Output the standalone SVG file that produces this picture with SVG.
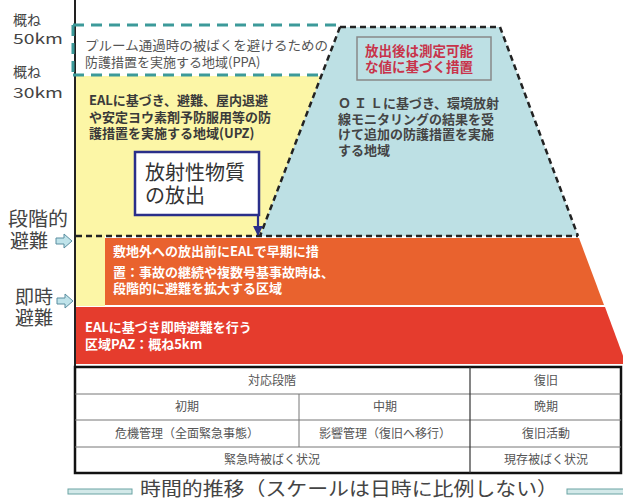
<svg xmlns="http://www.w3.org/2000/svg" width="623" height="501" viewBox="0 0 623 501">
<defs>
<style>
text{font-family:"Noto Sans CJK JP","Noto Sans",sans-serif;}
.lab{font-size:19px;fill:#444;}
.km{font-size:14px;fill:#444;}
.dk{font-size:13px;fill:#3a3a3a;font-weight:bold;}
.wt{font-size:13px;fill:#fff;font-weight:bold;}
.rd{font-size:13.5px;fill:#c8334a;font-weight:bold;}
.tb{font-size:12px;fill:#555;text-anchor:middle;}
.tl{stroke:#777;stroke-width:1;}
.blk{fill:none;stroke:#222;stroke-width:2.5;stroke-dasharray:6 4;}
.teal{fill:none;stroke:#3c9a9a;stroke-width:3;stroke-dasharray:11 7;}
.larr{fill:#bfe3ea;stroke:#5a8ea0;stroke-width:1;}
</style>
<marker id="ah" viewBox="0 0 10 10" refX="9" refY="5" markerWidth="4.5" markerHeight="4.5" orient="auto">
<path d="M0,0 L10,5 L0,10 z" fill="#2a2f8a"/>
</marker>
</defs>
<rect width="623" height="501" fill="#fff"/>

<g id="zone-upz">
<polygon points="75,76 322,76 260,236 105,236 105,306 75,306" fill="#fcf6a6"/>
</g>
<g id="zone-oil">
<polygon points="340,27 500,27 578,236 260,236" fill="#bde0e4"/>
</g>
<g id="zone-staged">
<polygon points="105,238 579,238 604,305 105,305" fill="#e9622e"/>
</g>
<g id="zone-paz">
<polygon points="75,307 605,307 626,364 75,364" fill="#e53c2d"/>
</g>

<g id="connectors">
<line x1="75" y1="0" x2="75" y2="473" stroke="#222" stroke-width="2"/>
<path class="teal" d="M73,25 H340 M73,75 H320 M73,25 V75"/>
<path class="blk" d="M340,27 H500 L578,236 M340,27 L260,236"/>
<line class="blk" x1="76" y1="236" x2="578" y2="236"/>
<line x1="258" y1="215" x2="258" y2="235" stroke="#2a2f8a" stroke-width="2.2" marker-end="url(#ah)"/>
</g>

<g id="axis-labels">
<text class="km" x="13" y="25">概ね</text>
<text class="km" x="13" y="44" textLength="50" lengthAdjust="spacingAndGlyphs">50km</text>
<text class="km" x="13" y="77">概ね</text>
<text class="km" x="13" y="98" textLength="50" lengthAdjust="spacingAndGlyphs">30km</text>
<text class="lab" x="8" y="226" textLength="60" lengthAdjust="spacingAndGlyphs">段階的</text>
<text class="lab" x="10" y="248">避難</text>
<path class="larr" d="M56,238 H64 V234 L72,241 L64,248 V244 H56 Z"/>
<text class="lab" x="15" y="304">即時</text>
<text class="lab" x="15" y="325">避難</text>
<path class="larr" d="M57,298 H65 V294 L73,301 L65,308 V304 H57 Z"/>
</g>

<g id="node-ppa">
<text class="dk" x="85" y="50" textLength="243" lengthAdjust="spacingAndGlyphs" style="font-weight:normal;fill:#555">プルーム通過時の被ばくを避けるための</text>
<text class="dk" x="85" y="67" style="font-weight:normal;fill:#555">防護措置を実施する地域(PPA)</text>
</g>

<g id="node-upz">
<text class="dk" x="89" y="105">EALに基づき、避難、屋内退避</text>
<text class="dk" x="89" y="122">や安定ヨウ素剤予防服用等の防</text>
<text class="dk" x="89" y="138">護措置を実施する地域(UPZ)</text>
</g>

<g id="node-release">
<rect x="135" y="152" width="124" height="63" fill="#fff" stroke="#2a2f8a" stroke-width="2.5"/>
<text class="lab" x="145" y="180" style="fill:#333;font-size:20px">放射性物質</text>
<text class="lab" x="145" y="203" style="fill:#333;font-size:20px">の放出</text>
</g>

<g id="node-oil">
<rect x="357" y="37" width="134" height="43" fill="none" stroke="#888" stroke-width="1.5"/>
<text class="rd" x="365" y="56">放出後は測定可能</text>
<text class="rd" x="365" y="72">な値に基づく措置</text>
<text class="dk" x="338" y="108" style="fill:#444">Ｏ Ｉ Ｌに基づき、環境放射</text>
<text class="dk" x="338" y="124" style="fill:#444">線モニタリングの結果を受</text>
<text class="dk" x="338" y="139" style="fill:#444">けて追加の防護措置を実施</text>
<text class="dk" x="338" y="155" style="fill:#444">する地域</text>
</g>

<g id="node-staged">
<text class="wt" x="113" y="256">敷地外への放出前にEALで早期に措</text>
<text class="wt" x="113" y="277">置：事故の継続や複数号基事故時は、</text>
<text class="wt" x="113" y="293">段階的に避難を拡大する区域</text>
</g>

<g id="node-paz">
<text class="wt" x="85" y="332">EALに基づき即時避難を行う</text>
<text class="wt" x="85" y="349">区域PAZ：概ね5km</text>
</g>

<g id="table">
<rect x="75" y="367" width="546" height="106" fill="#fff" stroke="#111" stroke-width="2.5"/>
<line class="tl" x1="75" y1="394" x2="621" y2="394"/>
<line class="tl" x1="75" y1="420" x2="621" y2="420"/>
<line class="tl" x1="75" y1="447" x2="621" y2="447"/>
<line x1="470" y1="367" x2="470" y2="473" stroke="#333" stroke-width="1.2"/>
<line class="tl" x1="299" y1="394" x2="299" y2="447"/>
<text class="tb" x="272" y="385">対応段階</text>
<text class="tb" x="546" y="385">復旧</text>
<text class="tb" x="187" y="411">初期</text>
<text class="tb" x="385" y="411">中期</text>
<text class="tb" x="546" y="411">晩期</text>
<text class="tb" x="187" y="438">危機管理（全面緊急事態）</text>
<text class="tb" x="385" y="438">影響管理（復旧へ移行）</text>
<text class="tb" x="546" y="438">復旧活動</text>
<text class="tb" x="272" y="464">緊急時被ばく状況</text>
<text class="tb" x="546" y="464">現存被ばく状況</text>
</g>

<g id="time-axis">
<rect x="68" y="489" width="64" height="5" fill="#d3e9e9" stroke="#6aa3a3" stroke-width="1"/>
<rect x="567" y="489" width="58" height="5" fill="#d3e9e9" stroke="#6aa3a3" stroke-width="1"/>
<text x="349" y="496" text-anchor="middle" textLength="418" lengthAdjust="spacingAndGlyphs" style="font-size:19px;fill:#444">時間的推移（スケールは日時に比例しない）</text>
</g>
</svg>
